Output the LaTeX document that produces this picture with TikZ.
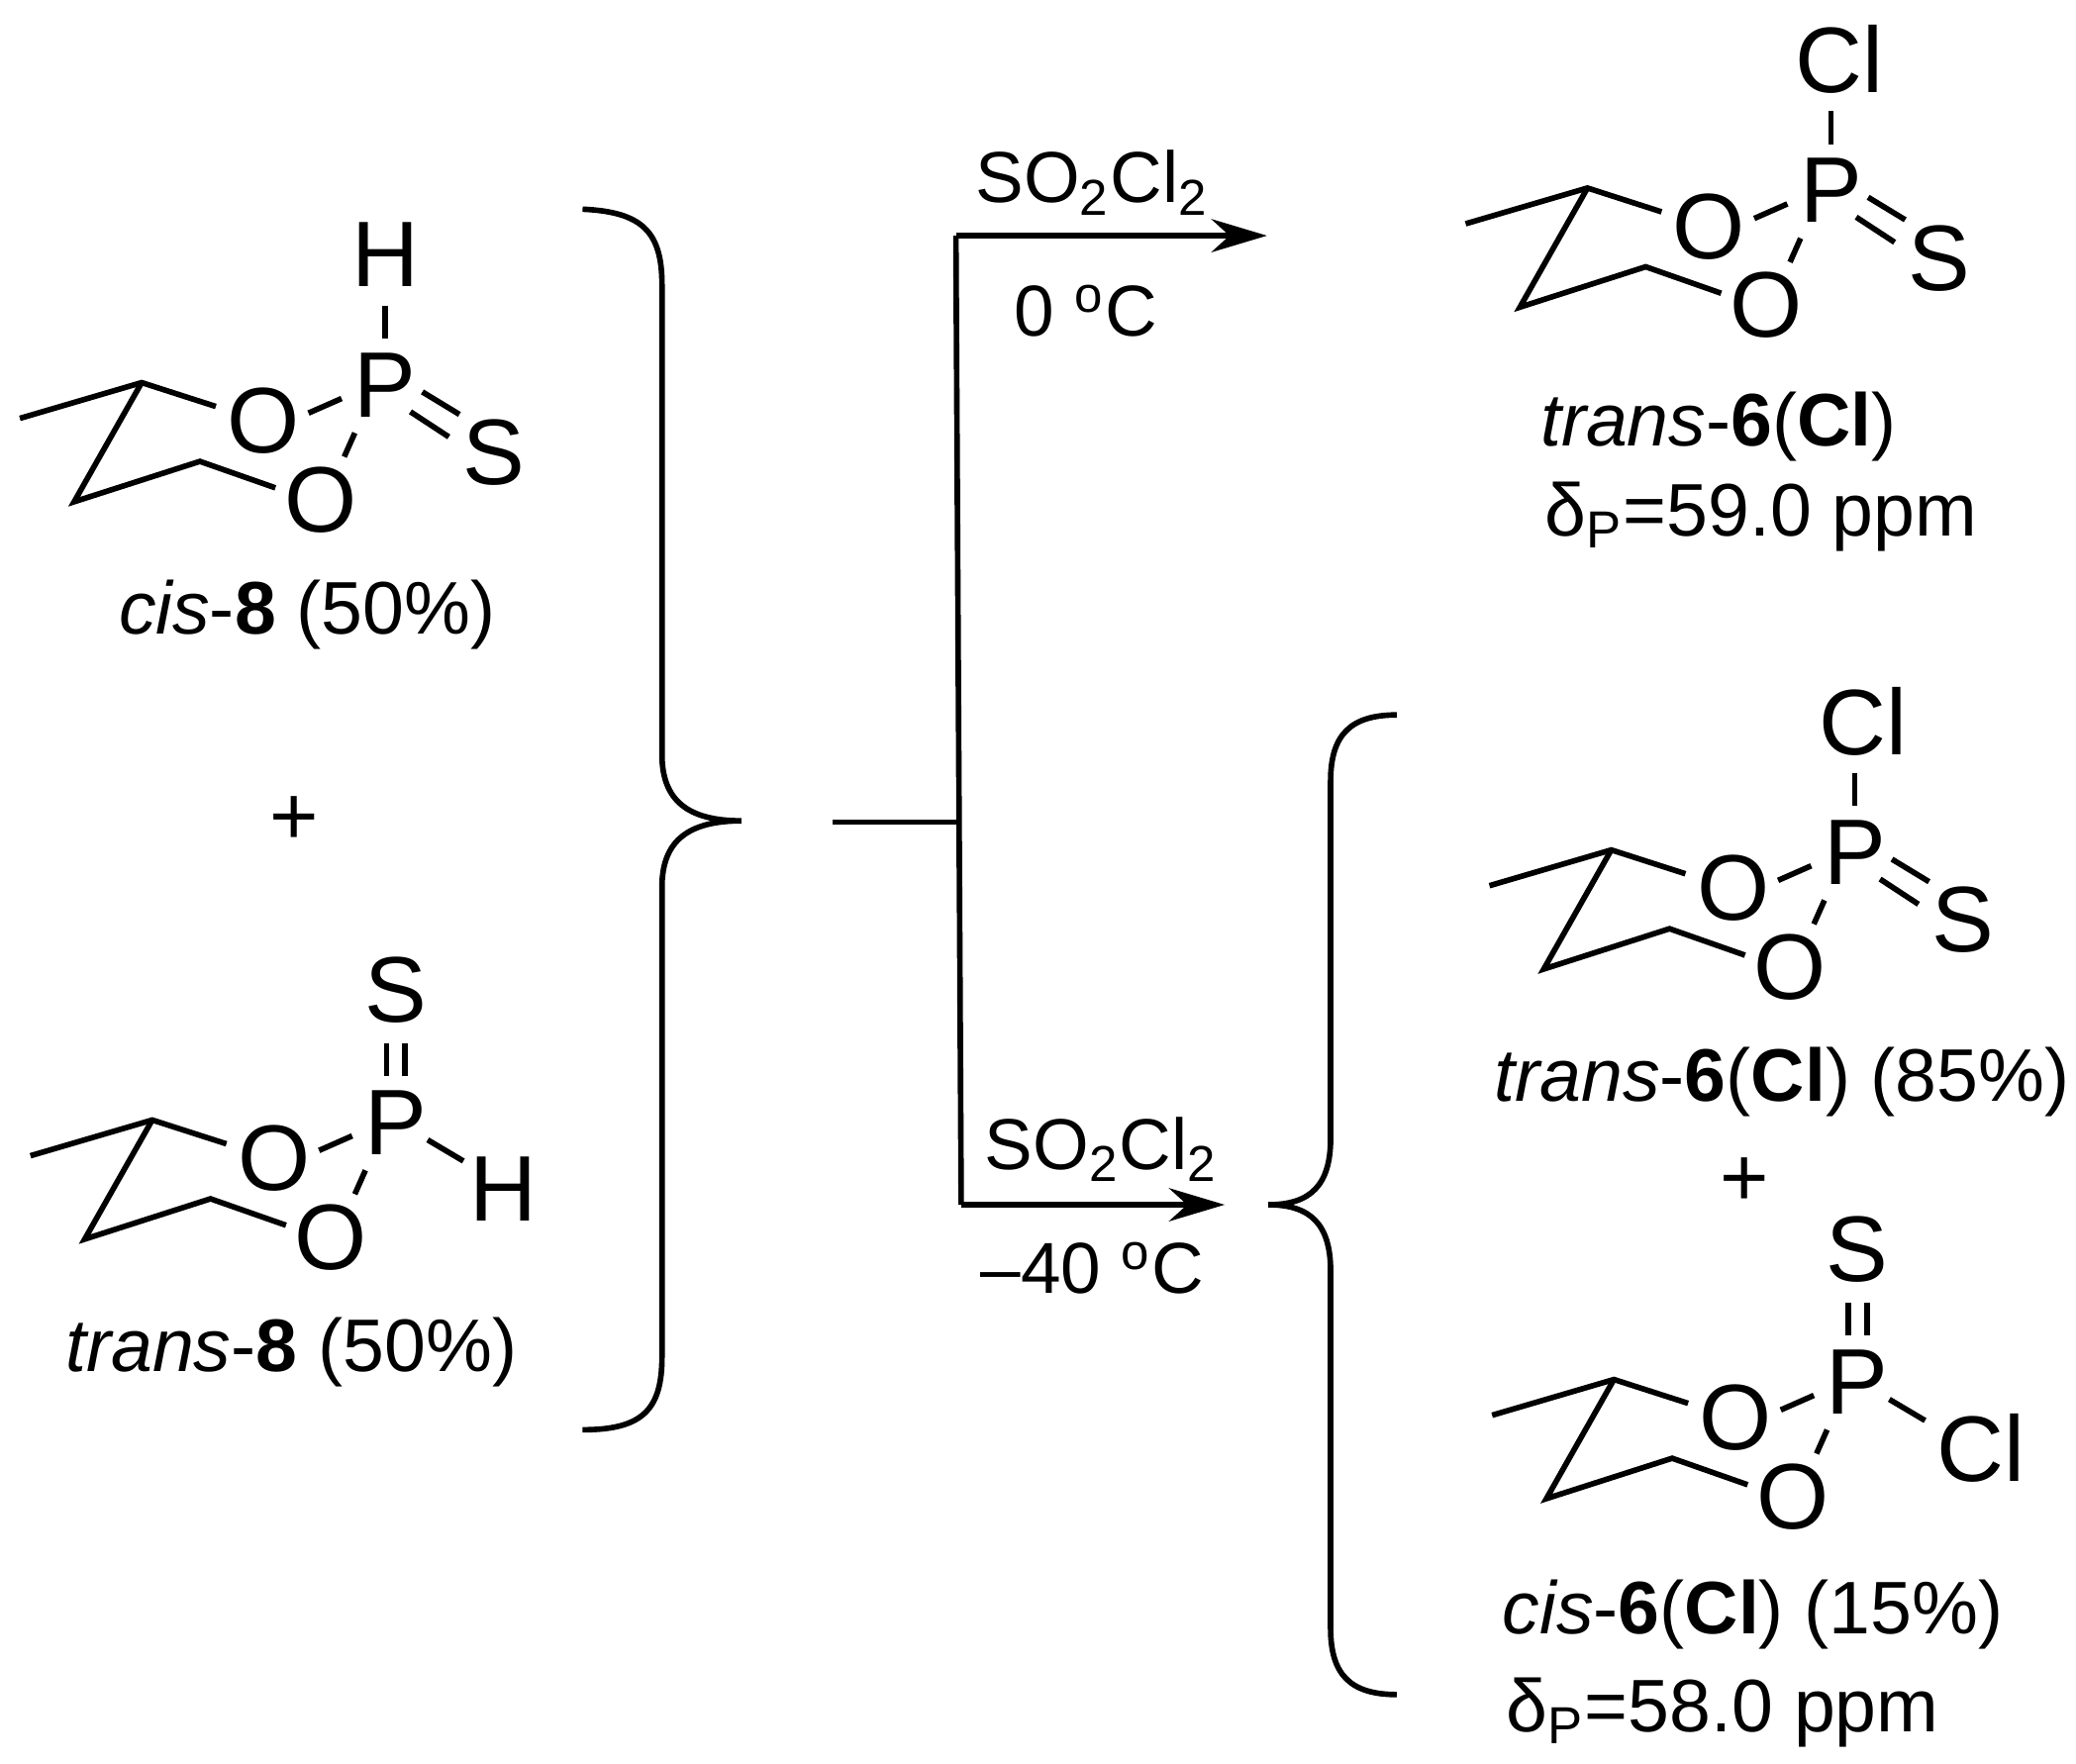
\documentclass[tikz,border=0pt]{standalone}
\usepackage{fontspec}
\setmainfont{Liberation Sans}
\usetikzlibrary{arrows.meta}
\tikzset{
  bond/.style={line width=1.2pt},
  atom/.style={font=\fontsize{20}{24}\selectfont, inner sep=0pt},
  lbl/.style={font=\fontsize{16}{19}\selectfont, inner sep=0pt, anchor=base},
  lblw/.style={font=\fontsize{16}{19}\selectfont, inner sep=0pt, anchor=base west},
  plus/.style={font=\fontsize{18}{22}\selectfont, inner sep=0pt},
  reag/.style={font=\fontsize{15.5}{18}\selectfont, inner sep=0pt},
  rxn/.style={line width=1.2pt},
  rxnarrow/.style={line width=1.2pt, -{Stealth[length=0.42cm,width=0.25cm]}},
}
\newcommand\ring[3]{%
\begin{scope}[shift={(#2,#3)}]
  \node[atom] (#1P) at (0,0) {P};
  \node[atom] (#1O1) at (-92,27) {O};
  \node[atom] (#1O2) at (-49,86.6) {O};
  \draw[bond] (-276,25) -- (-184,-2) -- (-128,16);
  \draw[bond] (-184,-2) -- (-235,88) -- (-140,57.5) -- (-83,77.5);
  \draw[bond] (-58,21) -- (-33,10);
  \draw[bond] (-23,36) -- (-31,54);
\end{scope}}
\newcommand\topsingle[5]{%
\begin{scope}[shift={(#2,#3)}]
  \node[atom] (#1T) at (#5,-99) {#4};
  \draw[bond] (0,-60) -- (0,-35);
\end{scope}}
\newcommand\topdouble[4]{%
\begin{scope}[shift={(#2,#3)}]
  \node[atom] (#1T) at (0,-100) {#4};
  \draw[bond] (-7,-60) -- (-7,-35);
  \draw[bond] (7,-60) -- (7,-35);
\end{scope}}
\newcommand\rightdouble[4]{%
\begin{scope}[shift={(#2,#3)}]
  \node[atom] (#1R) at (82,51) {#4};
  \draw[bond] (28,5) -- (56,22);
  \draw[bond] (19,20) -- (48,39);
\end{scope}}
\newcommand\rightsingle[5]{%
\begin{scope}[shift={(#2,#3)}]
  \node[atom] (#1R) at (#5,50) {#4};
  \draw[bond] (24,13) -- (51,29);
\end{scope}}
\begin{document}
\begin{tikzpicture}[x=0.01cm,y=-0.01cm]
\useasboundingbox (0,0) rectangle (1568,1332);
% cis-8
\ring{a}{291}{291}
\topsingle{a}{291}{291}{H}{0}
\rightdouble{a}{291}{291}{S}
\node[lbl] (la) at (232,479) {\textit{cis}-\textbf{8} (50\%)};
\node[plus] (plus1) at (222,620) {+};
% trans-8
\ring{b}{299}{848}
\topdouble{b}{299}{848}{S}
\rightsingle{b}{299}{848}{H}{81}
\node[lbl] (lb) at (220,1036) {\textit{trans}-\textbf{8} (50\%)};
% trans-6 top
\ring{c}{1383}{144}
\topsingle{c}{1383}{144}{Cl}{6}
\rightdouble{c}{1383}{144}{S}
\node[lbl] (lc) at (1298,337) {\textit{trans}-\textbf{6}(\textbf{Cl})};
\node[lblw] (dc) at (1166,405) {δ\textsubscript{P}=59.0 ppm};
% trans-6 middle
\ring{d}{1401}{644}
\topsingle{d}{1401}{644}{Cl}{6}
\rightdouble{d}{1401}{644}{S}
\node[lbl] (ld) at (1346,832) {\textit{trans}-\textbf{6}(\textbf{Cl}) (85\%)};
\node[plus] (plus2) at (1318,893) {+};
% cis-6 bottom
\ring{e}{1403}{1044}
\topdouble{e}{1403}{1044}{S}
\rightsingle{e}{1403}{1044}{Cl}{93}
\node[lbl] (le) at (1324,1234) {\textit{cis}-\textbf{6}(\textbf{Cl}) (15\%)};
\node[lblw] (de) at (1137,1308) {δ\textsubscript{P}=58.0 ppm};
% left brace
\draw[rxn] (440,158) .. controls (485,160) and (500,175) .. (500,215)
  -- (500,570) .. controls (500,605) and (520,620) .. (560,620)
  .. controls (520,620) and (500,635) .. (500,670)
  -- (500,1025) .. controls (500,1065) and (485,1080) .. (440,1080);
% right brace
\draw[rxn] (1055,540) .. controls (1020,540) and (1005,555) .. (1005,590)
  -- (1005,860) .. controls (1005,895) and (990,910) .. (958,910)
  .. controls (990,910) and (1005,925) .. (1005,960)
  -- (1005,1230) .. controls (1005,1265) and (1020,1280) .. (1055,1280);
% arrows
\coordinate (s) at (629,621);
\coordinate (j) at (724,621);
\coordinate (t1) at (722,178);
\coordinate (t2) at (957,178);
\coordinate (b1) at (726,910);
\coordinate (b2) at (925,910);
\draw[rxn] (s) -- (j);
\draw[rxn] (t1) -- (b1);
\draw[rxnarrow] (t1) -- (t2);
\draw[rxnarrow] (b1) -- (b2);
\node[reag] (r1) at (825,138) {SO\textsubscript{2}Cl\textsubscript{2}};
\node[reag] (c1) at (820,235) {0 \textsuperscript{o}C};
\node[reag] (r2) at (832,868) {SO\textsubscript{2}Cl\textsubscript{2}};
\node[reag] (c2) at (825,958) {–40 \textsuperscript{o}C};
\end{tikzpicture}
\end{document}
